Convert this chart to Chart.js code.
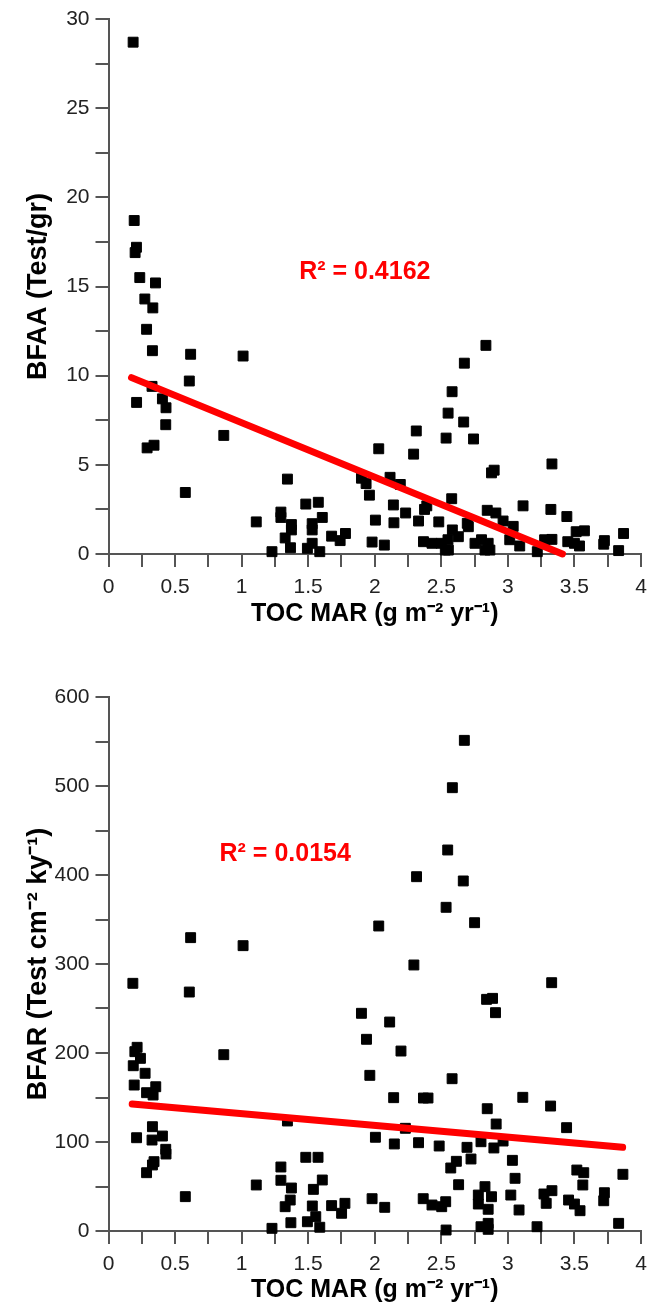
<!DOCTYPE html>
<html>
<head>
<meta charset="utf-8">
<script src="https://cdn.jsdelivr.net/npm/chart.js@4.4.1/dist/chart.umd.min.js"></script>
<style>
  body { margin: 0; background: #fff; }
  canvas { display: block; }
</style>
</head>
<body>
<canvas id="chartBfaa" width="649" height="640"></canvas>
<canvas id="chartBfar" width="649" height="671"></canvas>
<script>
// TOC MAR vs BFAA (top)
var tocTop = [0.185, 0.193, 0.21, 0.20, 0.235, 0.353, 0.273, 0.333, 0.286, 0.33,
  0.617, 1.011, 0.607, 0.327, 0.211, 0.405, 0.432, 0.43, 0.866, 0.29,
  0.342, 0.577, 1.344, 1.11, 1.295, 1.295, 1.374, 1.327, 1.367, 1.228,
  2.673, 2.581, 2.551, 2.668, 2.312, 2.536, 2.742, 2.03, 2.292, 1.9,
  1.935, 1.96, 2.115, 2.192, 2.578, 2.391, 2.374, 2.14, 2.232, 1.482,
  1.576, 1.606, 2.005, 2.329, 2.481, 2.144, 1.374, 1.53, 1.53, 1.676,
  1.78, 1.74, 1.494, 1.587, 1.53, 1.98, 2.072, 2.583, 2.628, 2.703,
  2.366, 2.43, 2.5, 2.53, 2.753, 2.835, 2.897, 2.877, 3.331, 3.114,
  3.323, 3.443, 2.845, 2.91, 2.964, 3.04, 2.802, 2.852, 2.828, 2.865,
  3.014, 3.089, 3.221, 3.276, 3.331, 3.45, 3.513, 3.575, 3.538, 3.5,
  3.725, 3.869, 3.832, 2.55, 2.553, 2.695, 3.72];
var bfaa = [28.7, 18.7, 17.2, 16.9, 15.5, 15.2, 14.3, 13.8, 12.6, 11.4,
  11.2, 11.1, 9.7, 9.4, 8.5, 8.7, 8.2, 7.25, 6.65, 5.95,
  6.1, 3.45, 4.2, 1.8, 2.35, 2.05, 1.65, 0.9, 0.35, 0.13,
  10.7, 9.1, 7.9, 7.4, 6.9, 6.5, 6.45, 5.9, 5.6, 4.25,
  3.95, 3.3, 4.3, 3.9, 3.1, 2.7, 2.5, 2.75, 2.3, 2.8,
  2.9, 2.05, 1.9, 1.85, 1.8, 1.75, 1.35, 1.7, 1.35, 1.0,
  1.15, 0.75, 0.32, 0.13, 0.6, 0.67, 0.5, 1.35, 0.97, 1.53,
  0.69, 0.6, 0.6, 0.22, 0.6, 11.7, 4.7, 4.55, 5.05, 2.7,
  2.5, 2.1, 2.45, 2.3, 1.85, 1.55, 0.8, 0.6, 0.22, 0.22,
  0.8, 0.45, 0.13, 0.8, 0.82, 0.69, 1.25, 1.3, 0.45, 0.6,
  0.75, 1.15, 0.19, 0.8, 0.22, 1.72, 0.55];
var trendTopX = [0.173, 3.41];
var trendTopY = [9.89, 0.0];

// TOC MAR vs BFAR (bottom)
var tocBottom = [0.617, 1.011, 0.183, 0.607, 0.866, 0.215, 0.198, 0.24, 0.186, 0.275,
  0.193, 0.286, 0.355, 0.335, 0.33, 0.211, 0.405, 0.327, 0.43, 0.432,
  0.342, 0.33, 0.286, 0.577, 1.344, 1.11, 1.295, 1.295, 1.374, 1.365,
  1.327, 1.37, 1.228, 1.482, 1.574, 1.606, 1.539, 1.531, 1.557, 1.494,
  1.587, 1.676, 1.776, 1.751, 2.673, 2.583, 2.548, 2.314, 2.665, 2.536,
  2.03, 2.75, 2.294, 3.329, 2.84, 2.885, 2.907, 1.9, 2.112, 1.938,
  2.197, 1.963, 2.581, 2.142, 2.366, 2.4, 3.112, 3.321, 2.845, 3.441,
  2.912, 2.23, 2.005, 2.147, 2.329, 2.484, 2.693, 2.798, 2.895, 2.964,
  2.723, 2.613, 2.571, 3.034, 3.054, 2.63, 3.518, 3.57, 3.563, 3.864,
  1.98, 2.075, 2.364, 2.43, 2.503, 2.533, 2.536, 2.778, 2.828, 2.877,
  2.778, 2.852, 2.798, 2.852, 2.852, 3.022, 3.084, 3.219, 3.271, 3.331,
  3.288, 3.456, 3.5, 3.542, 3.725, 3.72, 3.832];
var bfar = [329.6, 320.6, 278.3, 268.5, 198.1, 206.4, 201.5, 194, 185.7, 177.2,
  164, 155.4, 162.1, 152.8, 117.2, 104.8, 106.7, 102.2, 91.8, 86.5,
  77.9, 74.2, 65.5, 38.6, 123.6, 51.7, 71.9, 57, 48.3, 34.8,
  27.3, 9.3, 3, 82.8, 82.8, 57.3, 46.8, 28.1, 16.1, 10.4,
  4.2, 28.5, 31.1, 19.9, 551.3, 498.1, 428.1, 398.1, 393.3, 363.7,
  342.7, 346.4, 298.9, 279, 260.3, 261.4, 245.3, 244.6, 234.8, 215.4,
  202.2, 174.9, 171.1, 149.8, 149.4, 149.4, 150.2, 140.4, 137.4, 116.1,
  120.2, 115.4, 105.3, 97.8, 99.2, 95.5, 94, 100.3, 93.3, 101.1,
  80.9, 78.3, 70.8, 79.4, 59.2, 52, 68.5, 65.5, 51.7, 63.7,
  36.3, 26.6, 36.3, 29.2, 27.3, 32.9, 1.1, 40.4, 49.8, 38.5,
  30.3, 24.4, 4.8, 8.6, 1.9, 40.4, 23.6, 4.8, 41.6, 45.3,
  31.1, 34.8, 30.3, 22.8, 43, 34, 8.6];
var trendBottomX = [0.178, 3.862];
var trendBottomY = [142.7, 94.0];

var xTitle = 'TOC MAR (g m\u207B\u00B2 yr\u207B\u00B9)';

Chart.defaults.font.family = '"Liberation Sans", Arial, sans-serif';
Chart.defaults.color = '#222';

function toPoints(xs, ys) {
    var pts = [];
    for (var i = 0; i < xs.length; i++) pts.push({ x: xs[i], y: ys[i] });
    return pts;
}

// R² label drawn at a data position
var r2Label = {
    id: 'r2Label',
    afterDatasetsDraw: function (chart, args, opts) {
        var ctx = chart.ctx;
        var px = chart.scales.x.getPixelForValue(opts.x);
        var py = chart.scales.y.getPixelForValue(opts.y);
        ctx.save();
        ctx.font = 'bold 25px "Liberation Sans", Arial, sans-serif';
        ctx.fillStyle = '#ff0000';
        ctx.textAlign = 'left';
        ctx.textBaseline = 'middle';
        ctx.fillText(opts.text, px, py);
        ctx.restore();
    }
};

// la zona del grafico la fija solo layout.padding
function sinPadding(s) {
    s.paddingTop = 0;
    s.paddingBottom = 0;
    s.paddingLeft = 0;
    s.paddingRight = 0;
}

function crearGrafico(id, cfg) {
    var ctx = document.getElementById(id);
    return new Chart(ctx, {
        type: 'scatter',
        data: {
            datasets: [{
                data: toPoints(cfg.trendX, cfg.trendY),
                showLine: true,
                borderColor: '#ff0000',
                borderWidth: 7,
                borderCapStyle: 'round',
                pointRadius: 0,
                clip: false
            }, {
                data: toPoints(cfg.xs, cfg.ys),
                pointStyle: 'rect',
                pointRadius: 7,
                backgroundColor: '#000',
                borderColor: '#000',
                borderWidth: 1,
                clip: false
            }]
        },
        options: {
            responsive: false,
            animation: false,
            devicePixelRatio: 1,
            layout: { padding: { top: cfg.padTop, right: 5.5, left: 0, bottom: 0 } },
            plugins: {
                legend: { display: false },
                tooltip: { enabled: false },
                r2Label: { x: cfg.r2x, y: cfg.r2y, text: cfg.r2text }
            },
            scales: {
                x: {
                    type: 'linear',
                    min: 0,
                    max: 4,
                    afterFit: function (s) { s.height = cfg.xHeight; sinPadding(s); },
                    border: { display: true, color: '#555', width: 2 },
                    grid: { drawOnChartArea: false, drawTicks: true, tickLength: 13, color: '#555', lineWidth: 2 },
                    ticks: {
                        stepSize: 0.25,
                        padding: 8,
                        maxRotation: 0,
                        autoSkip: false,
                        font: { size: 21 },
                        color: '#222',
                        callback: function (v) {
                            var d = v * 2;
                            return Math.abs(d - Math.round(d)) < 1e-6 ? String(Math.round(v * 100) / 100) : '';
                        }
                    },
                    title: {
                        display: true,
                        text: xTitle,
                        color: '#000',
                        font: { size: 25, weight: 'bold' },
                        padding: { top: 0, bottom: cfg.xTitlePad }
                    }
                },
                y: {
                    type: 'linear',
                    min: 0,
                    max: cfg.yMax,
                    afterFit: function (s) { s.width = 108.5; sinPadding(s); },
                    border: { display: true, color: '#555', width: 2 },
                    grid: { drawOnChartArea: false, drawTicks: true, tickLength: 13, color: '#555', lineWidth: 2 },
                    ticks: {
                        stepSize: cfg.yStep,
                        padding: 6,
                        autoSkip: false,
                        font: { size: 21 },
                        color: '#222',
                        callback: function (v) {
                            return (Math.round(v * 10) % Math.round(cfg.yStep * 20) === 0) ? String(v) : '';
                        }
                    },
                    title: {
                        display: true,
                        text: cfg.yTitle,
                        color: '#000',
                        font: { size: 27, weight: 'bold' },
                        padding: { top: 22, bottom: 0 }
                    }
                }
            }
        },
        plugins: [r2Label]
    });
}

crearGrafico('chartBfaa', {
    xs: tocTop, ys: bfaa, trendX: trendTopX, trendY: trendTopY,
    yMax: 30, yStep: 2.5, yTitle: 'BFAA (Test/gr)',
    padTop: 19, xHeight: 86, xTitlePad: 11,
    r2x: 1.432, r2y: 15.8, r2text: 'R\u00B2 = 0.4162'
});

crearGrafico('chartBfar', {
    xs: tocBottom, ys: bfar, trendX: trendBottomX, trendY: trendBottomY,
    yMax: 600, yStep: 50, yTitle: 'BFAR (Test cm\u207B\u00B2 ky\u207B\u00B9)',
    padTop: 57, xHeight: 80, xTitlePad: 6,
    r2x: 0.834, r2y: 424, r2text: 'R\u00B2 = 0.0154'
});
</script>
</body>
</html>
